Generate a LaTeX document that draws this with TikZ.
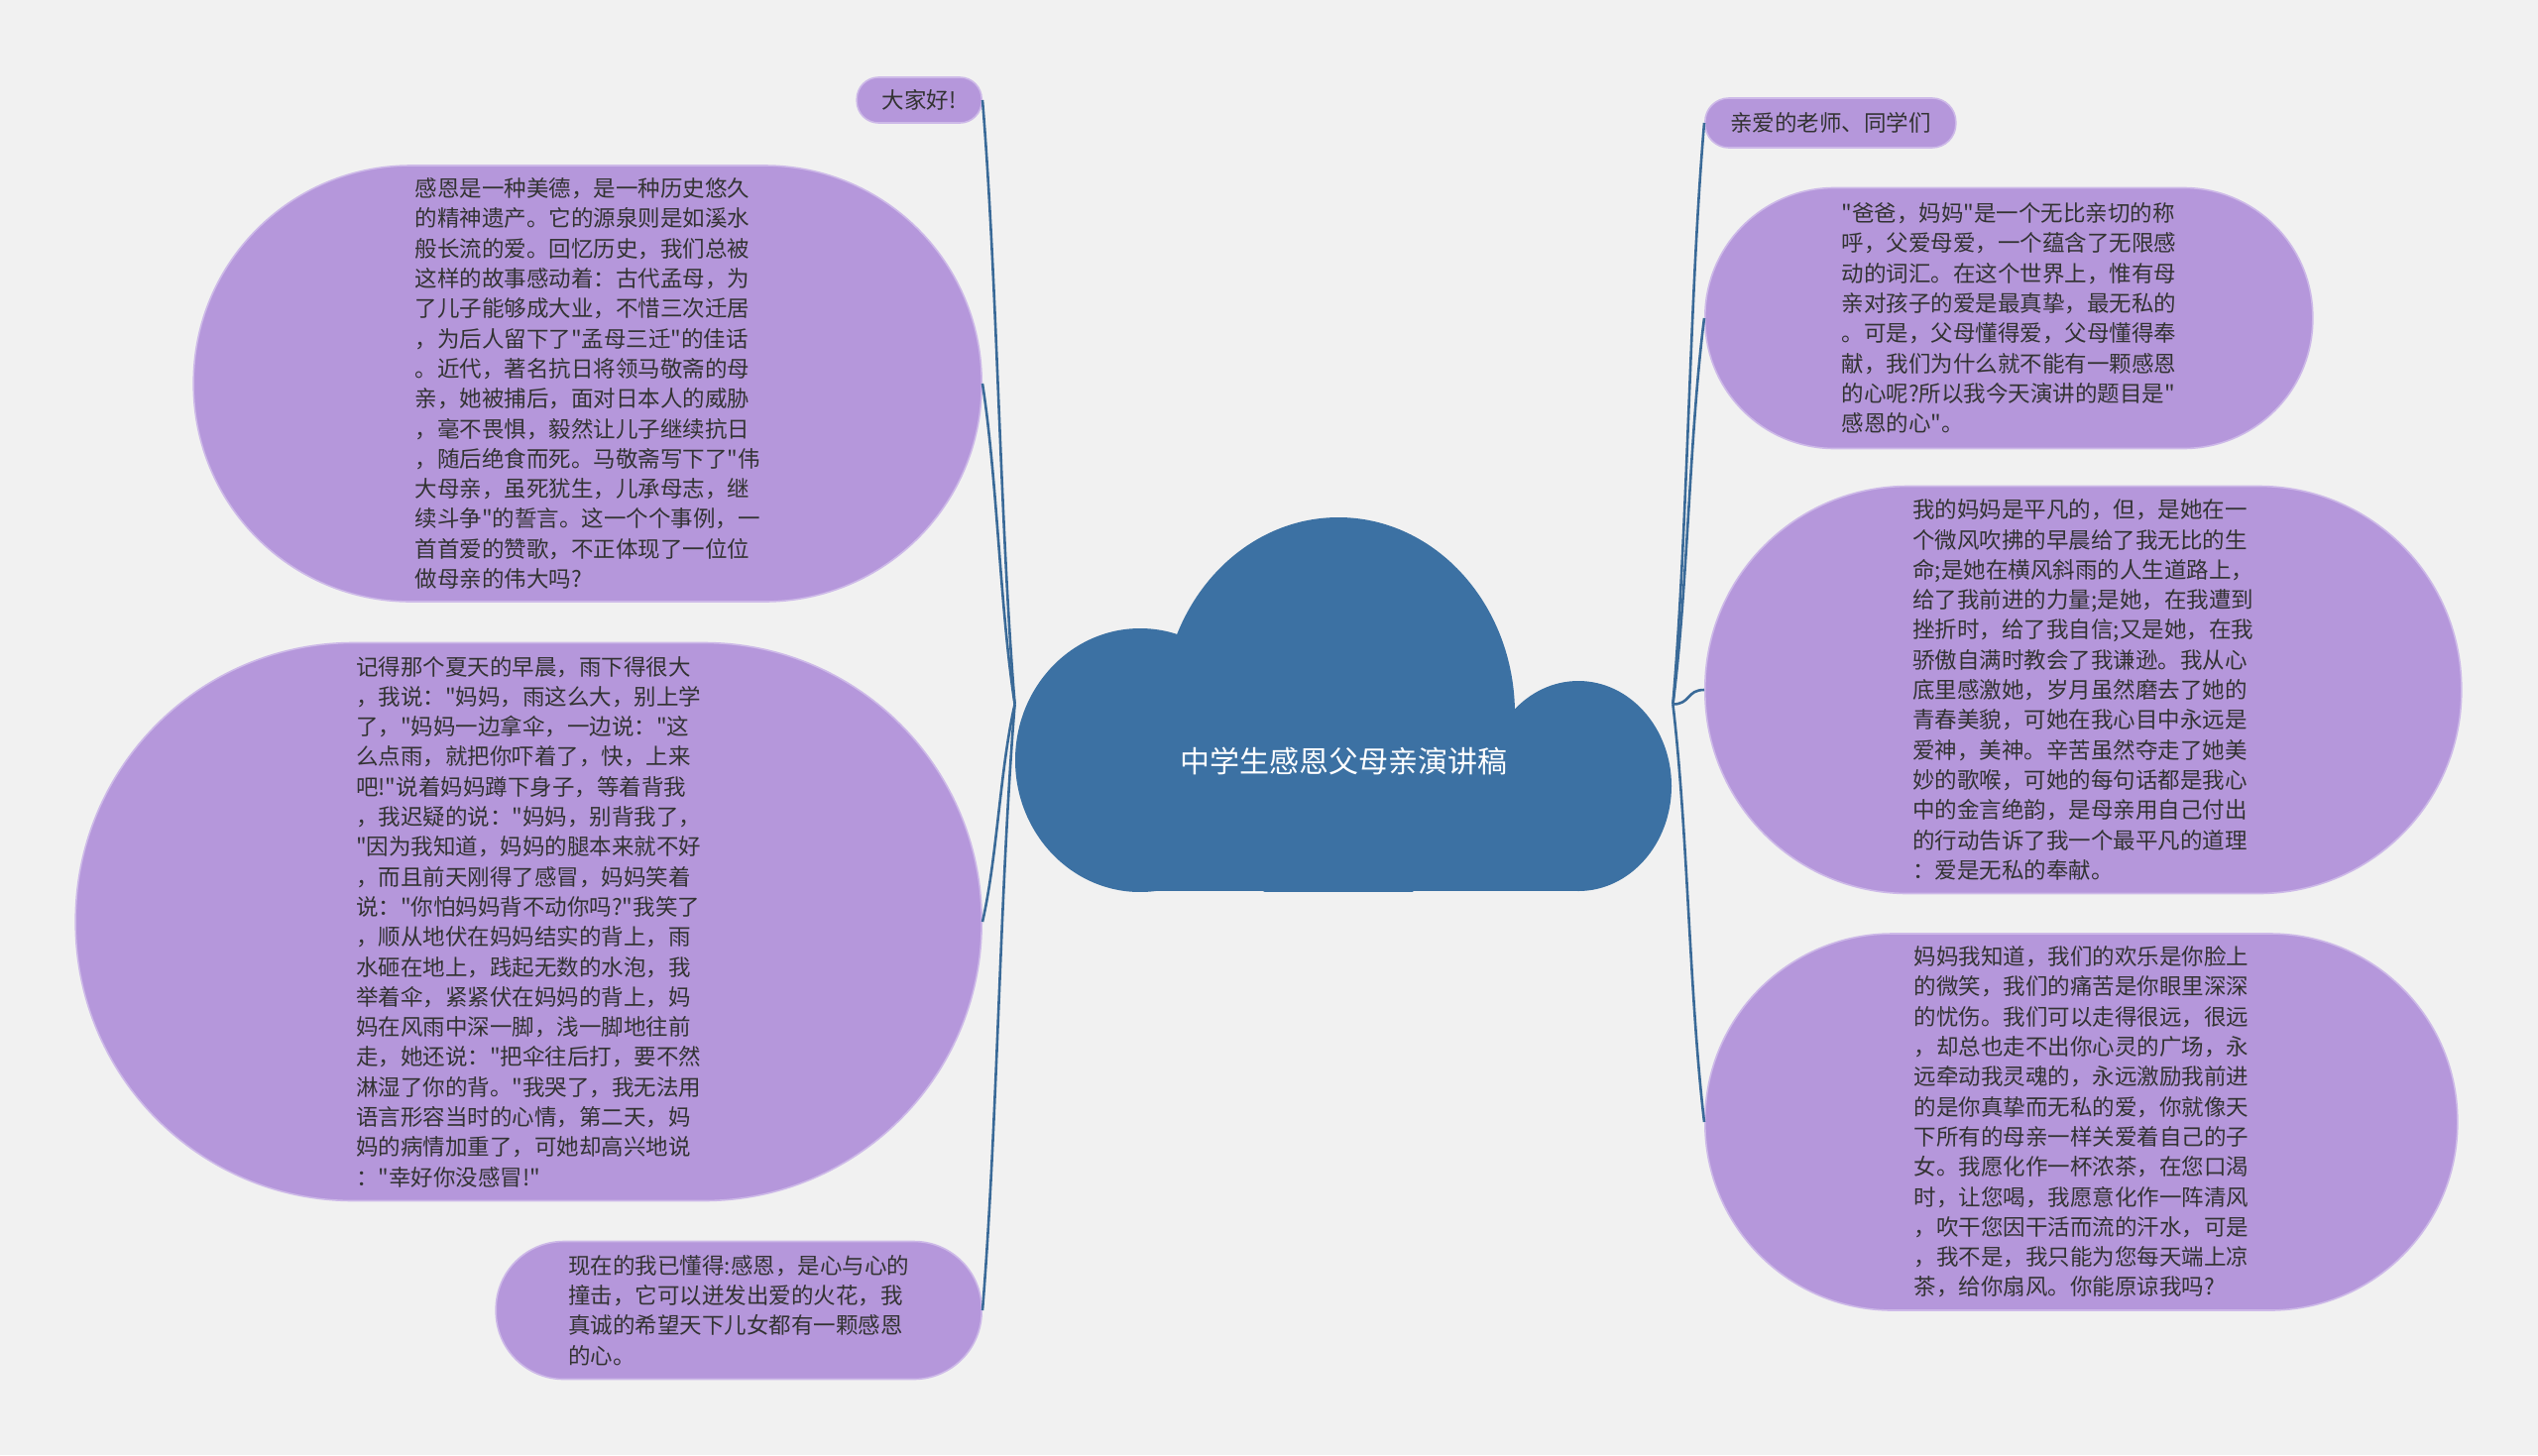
\documentclass[tikz,border=0pt]{standalone}
\usepackage{fontspec}
\setmainfont{Noto Sans CJK SC}[Ligatures=TeXOff]

\definecolor{paper}{HTML}{F1F1F1}
\definecolor{leaf}{HTML}{B597DB}
\definecolor{leafline}{HTML}{CDB9E8}
\definecolor{rootblue}{HTML}{3C71A3}
\definecolor{branchblue}{HTML}{3A6A98}
\definecolor{ink}{HTML}{333333}

\newcommand\leaffont{\fontsize{11.25pt}{15.15pt}\selectfont}
\newcommand\titlefont{\fontsize{15pt}{18pt}\selectfont}

\begin{document}
\begin{tikzpicture}[
    x=0.5pt, y=-0.5pt,
    leaf/.style 2 args={draw=leafline, fill=leaf, line width=0.8pt, text=ink, align=left, inner sep=0pt,
        font=\leaffont, minimum width=#1, minimum height=#2, rounded corners=#2/2-0.5pt},
    rootbox/.style={minimum width=331.5pt, minimum height=188.5pt, inner sep=0pt},
    branch/.style={draw=branchblue, line width=1.3pt}
]
\fill[paper] (0,0) rectangle (2560,1468);

% cloud, cut flat at the bottom
\begin{scope}
\clip (1000,500) rectangle (1700,899);
\fill[rootblue] (1150,767) ellipse [x radius=63pt, y radius=66.5pt];
\fill[rootblue] (1350,720) ellipse [x radius=89pt, y radius=99pt];
\fill[rootblue] (1592,793) ellipse [x radius=47pt, y radius=53pt];
\fill[rootblue] (1150,720) rectangle (1592,899);
\end{scope}
\node[rootbox, label={[text=white, font=\titlefont, yshift=-28.5pt]center:中学生感恩父母亲演讲稿}] (root) at (1355.5,710.5) {};

% left side
\node[leaf={63pt}{23pt}, anchor=east] (hello) at (991,101) {大家好!};
\node[leaf={397.5pt}{220pt}, anchor=east] (grace) at (991,387) {感恩是一种美德，是一种历史悠久\\的精神遗产。它的源泉则是如溪水\\般长流的爱。回忆历史，我们总被\\这样的故事感动着：古代孟母，为\\了儿子能够成大业，不惜三次迁居\\，为后人留下了"孟母三迁"的佳话\\。近代，著名抗日将领马敬斋的母\\亲，她被捕后，面对日本人的威胁\\，毫不畏惧，毅然让儿子继续抗日\\，随后绝食而死。马敬斋写下了"伟\\大母亲，虽死犹生，儿承母志，继\\续斗争"的誓言。这一个个事例，一\\首首爱的赞歌，不正体现了一位位\\做母亲的伟大吗?};
\node[leaf={457pt}{281.5pt}, anchor=east] (rainday) at (991,930) {记得那个夏天的早晨，雨下得很大\\，我说："妈妈，雨这么大，别上学\\了，"妈妈一边拿伞，一边说："这\\么点雨，就把你吓着了，快，上来\\吧!"说着妈妈蹲下身子，等着背我\\，我迟疑的说："妈妈，别背我了，\\"因为我知道，妈妈的腿本来就不好\\，而且前天刚得了感冒，妈妈笑着\\说："你怕妈妈背不动你吗?"我笑了\\，顺从地伏在妈妈结实的背上，雨\\水砸在地上，践起无数的水泡，我\\举着伞，紧紧伏在妈妈的背上，妈\\妈在风雨中深一脚，浅一脚地往前\\走，她还说："把伞往后打，要不然\\淋湿了你的背。"我哭了，我无法用\\语言形容当时的心情，第二天，妈\\妈的病情加重了，可她却高兴地说\\："幸好你没感冒!"};
\node[leaf={245pt}{69.5pt}, anchor=east] (nowknow) at (991,1322) {现在的我已懂得:感恩，是心与心的\\撞击，它可以迸发出爱的火花，我\\真诚的希望天下儿女都有一颗感恩\\的心。};

% right side
\node[leaf={126.5pt}{25pt}, anchor=west] (greet) at (1719,124) {亲爱的老师、同学们};
\node[leaf={306.5pt}{131.5pt}, anchor=west] (parents) at (1719,321) {"爸爸，妈妈"是一个无比亲切的称\\呼，父爱母爱，一个蕴含了无限感\\动的词汇。在这个世界上，惟有母\\亲对孩子的爱是最真挚，最无私的\\。可是，父母懂得爱，父母懂得奉\\献，我们为什么就不能有一颗感恩\\的心呢?所以我今天演讲的题目是"\\感恩的心"。};
\node[leaf={381.5pt}{205.5pt}, anchor=west] (mother) at (1719,696) {我的妈妈是平凡的，但，是她在一\\个微风吹拂的早晨给了我无比的生\\命;是她在横风斜雨的人生道路上，\\给了我前进的力量;是她，在我遭到\\挫折时，给了我自信;又是她，在我\\骄傲自满时教会了我谦逊。我从心\\底里感激她，岁月虽然磨去了她的\\青春美貌，可她在我心目中永远是\\爱神，美神。辛苦虽然夺走了她美\\妙的歌喉，可她的每句话都是我心\\中的金言绝韵，是母亲用自己付出\\的行动告诉了我一个最平凡的道理\\：爱是无私的奉献。};
\node[leaf={379.5pt}{190pt}, anchor=west] (knowing) at (1719,1132) {妈妈我知道，我们的欢乐是你脸上\\的微笑，我们的痛苦是你眼里深深\\的忧伤。我们可以走得很远，很远\\，却总也走不出你心灵的广场，永\\远牵动我灵魂的，永远激励我前进\\的是你真挚而无私的爱，你就像天\\下所有的母亲一样关爱着自己的子\\女。我愿化作一杯浓茶，在您口渴\\时，让您喝，我愿意化作一阵清风\\，吹干您因干活而流的汗水，可是\\，我不是，我只能为您每天端上凉\\茶，给你扇风。你能原谅我吗?};

\draw[branch] (root.west) .. controls +(-15,-183) and +(15,183) .. (hello.east);
\draw[branch] (root.west) .. controls +(-15,-97) and +(15,97) .. (grace.east);
\draw[branch] (root.west) .. controls +(-15,66) and +(15,-66) .. (rainday.east);
\draw[branch] (root.west) .. controls +(-15,184) and +(15,-184) .. (nowknow.east);
\draw[branch] (root.east) .. controls +(15,-176) and +(-15,176) .. (greet.west);
\draw[branch] (root.east) .. controls +(15,-117) and +(-15,117) .. (parents.west);
\draw[branch] (root.east) .. controls +(18,0) and +(-18,0) .. (mother.west);
\draw[branch] (root.east) .. controls +(15,127) and +(-15,-127) .. (knowing.west);
\end{tikzpicture}
\end{document}
